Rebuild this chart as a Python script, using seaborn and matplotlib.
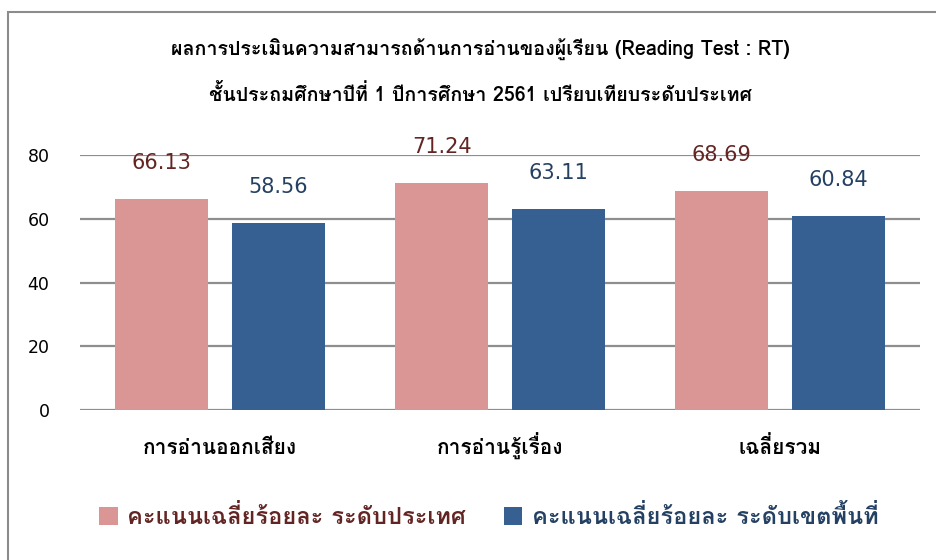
import matplotlib
matplotlib.use("Agg")
import matplotlib.pyplot as plt
from matplotlib import font_manager
from matplotlib.patches import Patch, Rectangle
from fontTools.ttLib import TTFont
from fontTools.pens.boundsPen import BoundsPen
import seaborn as sns
import pandas as pd

# data
categories = ["การอ่านออกเสียง", "การอ่านรู้เรื่อง", "เฉลี่ยรวม"]
series_names = ["คะแนนเฉลี่ยร้อยละ ระดับประเทศ", "คะแนนเฉลี่ยร้อยละ ระดับเขตพื้นที่"]
national = [66.13, 71.24, 68.69]
district = [58.56, 63.11, 60.84]
yticks = [0, 20, 40, 60, 80]
title_lines = ["ผลการประเมินความสามารถด้านการอ่านของผู้เรียน (Reading Test : RT)",
               "ชั้นประถมศึกษาปีที่ 1 ปีการศึกษา 2561 เปรียบเทียบระดับประเทศ"]

bar_colors = ["#D99694", "#366092"]
label_colors = ["#632523", "#244062"]


def font_info(path):
    # matplotlib does no Thai shaping, so look for a font whose default tone
    # marks sit high and which has PUA glyphs for the other positions
    try:
        tt = TTFont(path, fontNumber=0, lazy=True)
        cmap = tt.getBestCmap()
        gs = tt.getGlyphSet()
        upm = tt["head"].unitsPerEm

        def bounds(cp):
            pen = BoundsPen(gs)
            gs[cmap[cp]].draw(pen)
            return pen.bounds
        tone = bounds(0x0E48)
        vowel = bounds(0x0E35)
        if tone[1] < vowel[3] - 0.03 * upm:
            return None
        blocks = {}
        for base in (0xF705, 0xF70A, 0xF713):
            if not all(base + k in cmap for k in range(5)):
                continue
            b = bounds(base)
            dx = b[0] - tone[0]
            dy = b[1] - tone[1]
            low = dy < -0.1 * upm
            left = dx < -0.05 * upm
            key = ("low" if low else "high") + ("_left" if left else "")
            blocks[key] = base
        if "low" not in blocks:
            return None
        return blocks
    except Exception:
        return None


fams = {}
for f in font_manager.fontManager.ttflist:
    d = fams.setdefault(f.name, {})
    if f.style == "normal":
        d.setdefault(f.weight, f.fname)

capable = {}
for name, w in fams.items():
    if 400 in w and 700 in w:
        blocks = font_info(w[400])
        if blocks:
            capable[name] = blocks

thai = None
for p in ["Loma", "Tahoma", "Sarabun", "Garuda", "Waree", "Umpush"]:
    if p in capable:
        thai = p
        break
if thai is None and capable:
    thai = sorted(capable)[0]
blocks = capable.get(thai, {})
if thai is None:
    thai = "Noto Sans Thai Looped"

UPPER = {0x0E31, 0x0E34, 0x0E35, 0x0E36, 0x0E37, 0x0E47}
LOWER = {0x0E38, 0x0E39, 0x0E3A}
TALL = {0x0E1B, 0x0E1D, 0x0E1F, 0x0E2C}


def thai_text(s):
    if not blocks:
        return s
    cps = [ord(c) for c in s]
    out = []
    for i, c in enumerate(cps):
        prev = cps[i - 1] if i > 0 else 0
        if 0x0E48 <= c <= 0x0E4C:
            k = c - 0x0E48
            if prev in UPPER:
                base = cps[i - 2] if i > 1 else 0
                if base in TALL and "high_left" in blocks:
                    c = blocks["high_left"] + k
            else:
                base = cps[i - 2] if (prev in LOWER and i > 1) else prev
                if base in TALL and "low_left" in blocks:
                    c = blocks["low_left"] + k
                else:
                    c = blocks["low"] + k
        out.append(chr(c))
    return "".join(out)


df = pd.DataFrame({
    "category": [thai_text(c) for c in categories] * 2,
    "series": [series_names[0]] * 3 + [series_names[1]] * 3,
    "value": national + district,
})

sns.set_theme(style="white")
plt.rcParams["font.family"] = [thai, "DejaVu Sans"]

fig = plt.figure(figsize=(9.36, 5.6), dpi=100)
ax = fig.add_axes([0.0855, 0.268, 0.8975, 0.455])

sns.barplot(data=df, x="category", y="value", hue="series",
            order=[thai_text(c) for c in categories], hue_order=series_names,
            palette=bar_colors, width=0.833, gap=0.2, saturation=1, linewidth=0,
            ax=ax, legend=False, zorder=3)

ax.set_ylim(0, 80)
ax.set_xlim(-0.5, 2.5)
ax.set_yticks(yticks)
ax.set_yticklabels([str(t) for t in yticks], fontsize=12.5, family="DejaVu Sans",
                   color="black")
ax.grid(axis="y", color="#8E8E8E", linewidth=1.6, zorder=0)
ax.set_axisbelow(True)
for s in ax.spines.values():
    s.set_visible(False)
ax.tick_params(axis="y", length=0, pad=22)
ax.tick_params(axis="x", length=0, pad=32)
for lbl in ax.get_xticklabels():
    lbl.set_fontsize(15)
    lbl.set_fontweight("bold")
    lbl.set_color("black")
    lbl.set_va("baseline")
ax.set_xlabel("")
ax.set_ylabel("")

# value labels above bars
for container, col in zip(ax.containers, label_colors):
    for bar in container:
        h = bar.get_height()
        ax.annotate(f"{h:.2f}", (bar.get_x() + bar.get_width() / 2, h),
                    xytext=(0, 26), textcoords="offset points",
                    ha="center", va="center", fontsize=15, color=col,
                    family="DejaVu Sans", annotation_clip=False, zorder=5)

fig.text(0.513, 0.911, thai_text(title_lines[0]), ha="center", va="center",
         fontsize=14.2, fontweight="bold", color="black")
fig.text(0.513, 0.831, thai_text(title_lines[1]), ha="center", va="center",
         fontsize=14.2, fontweight="bold", color="black")

handles = [Patch(facecolor=c, edgecolor="none") for c in bar_colors]
leg = fig.legend(handles, [thai_text(s) for s in series_names], loc="center",
                 bbox_to_anchor=(0.522, 0.077), ncol=2, frameon=False, fontsize=17,
                 handlelength=0.8, handleheight=0.8, handletextpad=0.4,
                 columnspacing=1.6)
for t, c in zip(leg.get_texts(), label_colors):
    t.set_color(c)
    t.set_fontweight("bold")

# outer chart frame (extends past the right and bottom edges)
fig.patches.append(Rectangle((8 / 936, -0.2), 1.5, 1.2 - 12 / 560,
                             transform=fig.transFigure, fill=False,
                             edgecolor="#8C8C8C", linewidth=1.5))

fig.savefig("out.png", dpi=100)
